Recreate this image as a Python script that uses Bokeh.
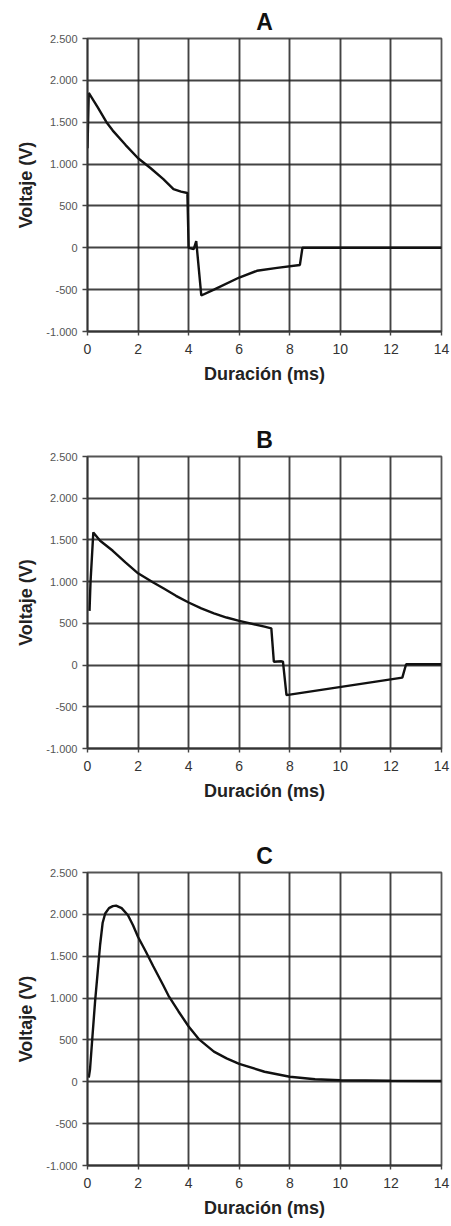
from bokeh.plotting import figure
from bokeh.layouts import column
from bokeh.models import FixedTicker, Range1d
from bokeh.embed import file_html
from bokeh.resources import INLINE

# ---- data ----
x_ticks = [0, 2, 4, 6, 8, 10, 12, 14]
y_ticks = [-1000, -500, 0, 500, 1000, 1500, 2000, 2500]
y_tick_labels = ["-1.000", "-500", "0", "500", "1.000", "1.500", "2.000", "2.500"]

titles = ["A", "B", "C"]
x_label = "Duración (ms)"
y_label = "Voltaje (V)"

a_t = [0, 0.05, 0.4, 0.75, 1.0, 1.5, 2.0, 2.5, 3.0, 3.4, 3.7, 3.95, 4.0, 4.2, 4.3,
       4.5, 5.0, 6.0, 6.7, 7.5, 8.4, 8.5, 14]
a_v = [1190, 1850, 1680, 1500, 1400, 1230, 1070, 950, 820, 700, 670, 655, 0, -15, 80,
       -570, -500, -355, -275, -240, -205, 0, 0]

b_t = [0.08, 0.12, 0.23, 0.5, 1.0, 1.5, 2.0, 2.6, 3.0, 3.5, 4.0, 4.5, 5.0, 5.5, 6.0,
       7.0, 7.27, 7.37, 7.67, 7.73, 7.87, 12.45, 12.6, 14]
b_v = [650, 1000, 1590, 1490, 1370, 1230, 1100, 990, 920, 830, 750, 680, 620, 570, 530,
       460, 440, 40, 45, 40, -360, -150, 10, 10]

c_t = [0.05, 0.1, 0.2, 0.3, 0.4, 0.5, 0.6, 0.7, 0.85, 1.0, 1.13, 1.35, 1.6, 1.8, 2.0,
       2.3, 2.6, 3.0, 3.2, 3.6, 4.0, 4.4, 5.0, 5.5, 6.0, 7.0, 8.0, 9.0, 10, 12, 14]
c_v = [50, 150, 560, 960, 1300, 1640, 1900, 2010, 2075, 2098, 2105, 2075, 1990, 1870, 1730,
       1560, 1380, 1150, 1030, 840, 660, 510, 360, 280, 215, 120, 60, 30, 18, 12, 10]

series = [(a_t, a_v), (b_t, b_v), (c_t, c_v)]
tops = [38, 46, 52]
frames = [293, 292, 293]
bottoms = [79, 72, 61]

FONT = "Liberation Sans"
figs = []
for i in range(3):
    t, v = series[i]
    p = figure(frame_width=354, frame_height=frames[i],
               min_border_left=87, min_border_right=10,
               min_border_top=tops[i], min_border_bottom=bottoms[i],
               x_range=Range1d(0, 14), y_range=Range1d(-1000, 2500),
               output_backend="svg", toolbar_location=None,
               title=titles[i])
    p.title.align = "center"
    p.title.text_font = FONT
    p.title.text_font_size = "23px"
    p.title.text_font_style = "bold"
    p.title.text_color = "#111111"
    p.title.standoff = 8

    p.xaxis.ticker = FixedTicker(ticks=x_ticks)
    p.yaxis.ticker = FixedTicker(ticks=y_ticks)
    p.yaxis.major_label_overrides = {k: s for k, s in zip(y_ticks, y_tick_labels)}

    p.xaxis.axis_label = x_label
    p.yaxis.axis_label = y_label
    for ax in (p.xaxis, p.yaxis):
        ax.axis_label_text_font = FONT
        ax.axis_label_text_font_size = "18px"
        ax.axis_label_text_font_style = "bold"
        ax.axis_label_text_color = "#222222"
        ax.major_label_text_font = FONT
        ax.axis_line_color = "#333333"
        ax.axis_line_width = 1.8
        ax.major_tick_line_color = "#444444"
        ax.major_tick_line_width = 1.4
        ax.major_tick_in = 0
        ax.minor_tick_line_color = None
    p.xaxis.major_tick_out = 4
    p.yaxis.major_tick_out = 5
    p.xaxis.major_label_text_font_size = "14px"
    p.xaxis.major_label_text_color = "#333333"
    p.xaxis.major_label_standoff = 8
    p.xaxis.axis_label_standoff = 7
    p.yaxis.major_label_text_font_size = "11px"
    p.yaxis.major_label_text_color = "#555555"
    p.yaxis.major_label_standoff = 5
    p.yaxis.axis_label_standoff = 7

    p.xgrid.grid_line_color = "#222222"
    p.ygrid.grid_line_color = "#222222"
    p.xgrid.grid_line_width = 1.9
    p.ygrid.grid_line_width = 1.9
    p.xgrid.grid_line_alpha = 0.85
    p.ygrid.grid_line_alpha = 0.85
    p.outline_line_color = "#555555"
    p.outline_line_width = 1.8
    p.background_fill_color = "white"
    p.border_fill_color = "white"

    p.line(t, v, line_color="#111111", line_width=2.4)
    figs.append(p)

layout = column(*figs, spacing=0)
open("out.html", "w").write(file_html(layout, INLINE))
